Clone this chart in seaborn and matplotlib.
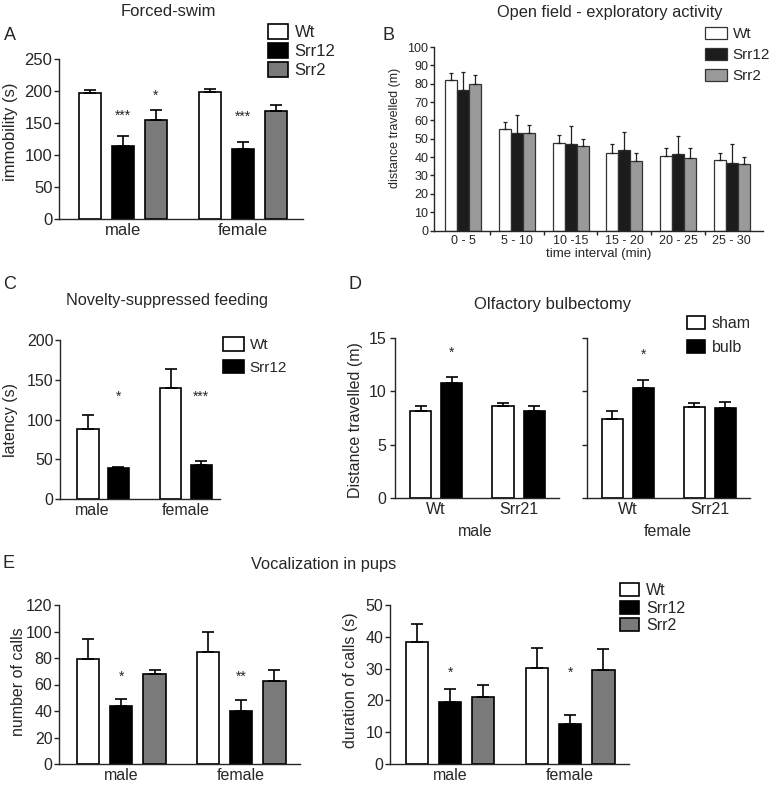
import numpy as np
import pandas as pd
import matplotlib
matplotlib.use("Agg")
import matplotlib.pyplot as plt
import matplotlib.transforms as mtransforms
import seaborn as sns

W, H = 777, 785

sexes = ["male", "female"]
geno3 = ["Wt", "Srr12", "Srr2"]
geno2 = ["Wt", "Srr12"]

# A - forced swim, immobility (s)
swim_mean = {"Wt": [197, 198], "Srr12": [114, 109], "Srr2": [155, 169]}
swim_sem = {"Wt": [4, 5], "Srr12": [16, 12], "Srr2": [15, 9]}
swim_stars = [("male", "Srr12", "***", 162), ("male", "Srr2", "*", 192), ("female", "Srr12", "***", 159)]

# B - open field, distance travelled (m)
intervals = ["0 - 5", "5 - 10", "10 -15", "15 - 20", "20 - 25", "25 - 30"]
field_mean = {"Wt": [82, 55.5, 47.5, 42.2, 40.5, 38.4],
              "Srr12": [76.7, 53, 47.3, 43.6, 41.5, 36.9],
              "Srr2": [80, 53, 45.8, 38, 39.3, 36.2]}
field_sem = {"Wt": [4, 3.5, 4.5, 4.8, 4.5, 4.1],
             "Srr12": [9.8, 10, 9.7, 9.9, 9.8, 10],
             "Srr2": [4.5, 4.6, 4, 4.2, 5.6, 4]}

# C - novelty-suppressed feeding, latency (s)
nsf_mean = {"Wt": [87.6, 140], "Srr12": [38.6, 43.2]}
nsf_sem = {"Wt": [18.5, 23.5], "Srr12": [2, 4]}
nsf_stars = [("male", "Srr12", "*", 128), ("female", "Srr12", "***", 128)]

# D - olfactory bulbectomy, distance travelled (m)
lines = ["Wt", "Srr21"]
treat = ["sham", "bulb"]
obx_male_mean = {"sham": [8.15, 8.65], "bulb": [10.75, 8.18]}
obx_male_sem = {"sham": [0.45, 0.28], "bulb": [0.55, 0.44]}
obx_female_mean = {"sham": [7.43, 8.53], "bulb": [10.28, 8.46]}
obx_female_sem = {"sham": [0.69, 0.34], "bulb": [0.82, 0.54]}
obx_male_stars = [("Wt", "bulb", "*", 13.6)]
obx_female_stars = [("Wt", "bulb", "*", 13.4)]

# E - vocalization in pups
calls_mean = {"Wt": [79.1, 84.2], "Srr12": [43.5, 40.2], "Srr2": [68.1, 62.8]}
calls_sem = {"Wt": [15.6, 15.8], "Srr12": [5.7, 7.8], "Srr2": [2.8, 8.3]}
calls_stars = [("male", "Srr12", "*", 65.7), ("female", "Srr12", "**", 65.7)]
dur_mean = {"Wt": [38.3, 30.1], "Srr12": [19.5, 12.6], "Srr2": [21.1, 29.7]}
dur_sem = {"Wt": [5.8, 6.3], "Srr12": [4.0, 2.8], "Srr2": [3.6, 6.5]}
dur_stars = [("male", "Srr12", "*", 28.6), ("female", "Srr12", "*", 28.6)]

sns.set_style("ticks")
plt.rcParams["font.family"] = ["Liberation Sans", "DejaVu Sans"]
plt.rcParams["axes.linewidth"] = 1.0

fig = plt.figure(figsize=(W / 100, H / 100), dpi=100)


def fx(px):
    return px / W


def fy(py):
    return 1 - py / H


def add_axes(l, t, r, b):
    return fig.add_axes([fx(l), fy(b), (r - l) / W, (b - t) / H])


def bar_panel(ax, cats, groups, means, sems, colors, width, gap, capsize,
              lw=1.2, edge="black", ecolor="black", stars=(), star_size=10):
    rows = [(c, g, means[g][i]) for g in groups for i, c in enumerate(cats)]
    df = pd.DataFrame(rows, columns=["cat", "grp", "val"])
    sns.barplot(data=df, x="cat", y="val", hue="grp", order=cats, hue_order=groups,
                palette=colors, saturation=1, width=width, gap=gap, edgecolor=edge,
                linewidth=lw, errorbar=None, legend=True, ax=ax)
    bars = list(ax.containers)[:len(groups)]
    centers = {}
    for g, cont in zip(groups, bars):
        xs = [b.get_x() + b.get_width() / 2 for b in cont]
        ys = [b.get_height() for b in cont]
        for c, x in zip(cats, xs):
            centers[(c, g)] = x
        ax.errorbar(xs, ys, yerr=[np.zeros(len(xs)), sems[g]], fmt="none",
                    ecolor=ecolor, elinewidth=lw, capsize=capsize, capthick=lw, zorder=1)
    for c, g, s, y in stars:
        ax.text(centers[(c, g)], y, s, ha="center", va="center", fontsize=star_size)
    handles, labels = ax.get_legend_handles_labels()
    ax.get_legend().remove()
    ax.set_xlabel("")
    ax.set_ylabel("")
    sns.despine(ax=ax)
    ax.tick_params(axis="x", length=0, pad=3)
    ax.tick_params(axis="y", length=3.5, width=1, pad=1.2)
    return handles, labels


def place_legend(ax, handles, labels, x, y, fs, hl, hh, ls, tp):
    ax.legend(handles, labels, loc="upper left", bbox_to_anchor=(fx(x), fy(y)),
              bbox_transform=fig.transFigure, frameon=False, borderpad=0,
              borderaxespad=0, fontsize=fs, handlelength=hl, handleheight=hh,
              labelspacing=ls, handletextpad=tp)


def ylabel(ax, text, x_right, y_mid, fs):
    ax.set_ylabel(text, fontsize=fs)
    ax.yaxis.set_label_coords(fx(x_right), fy(y_mid), transform=fig.transFigure)


col3 = {"Wt": "white", "Srr12": "black", "Srr2": "#7a7a7a"}

# ---- A
axA = add_axes(59, 59, 303, 219)
h, l = bar_panel(axA, sexes, geno3, swim_mean, swim_sem, col3, 0.825, 0.33, 4.5,
                 stars=swim_stars)
axA.set_ylim(0, 250)
axA.set_xlim(-0.53, 1.5)
axA.set_yticks([0, 50, 100, 150, 200, 250])
axA.tick_params(labelsize=12)
ylabel(axA, "immobility (s)", 18, 132, 12)
place_legend(axA, h, l, 268, 24, 12, 1.2, 1.0, 0.17, 0.4)
fig.text(fx(4), fy(35), "A", fontsize=13, va="center")
fig.text(fx(168), fy(12), "Forced-swim", fontsize=12, ha="center", va="center")

# ---- B
colB = {"Wt": "white", "Srr12": "#1c1c1c", "Srr2": "#9a9a9a"}
axB = add_axes(434, 47, 763, 230.5)
h, l = bar_panel(axB, intervals, geno3, field_mean, field_sem, colB, 0.67, 0, 1.5,
                 lw=0.9, edge="#333333", ecolor="#222222")
axB.set_ylim(0, 100)
axB.set_xlim(-0.54, 5.58)
axB.set_yticks(range(0, 101, 10))
axB.set_xticks(np.arange(0.5, 5.0, 1.0), minor=True)
axB.tick_params(axis="x", which="minor", length=3, width=1)
axB.tick_params(axis="y", length=3, pad=1)
axB.tick_params(labelsize=9)
axB.set_xlabel("time interval (min)", fontsize=9.5, labelpad=1)
ylabel(axB, "distance travelled (m)", 401, 128, 9)
place_legend(axB, h, l, 705, 27, 11, 1.45, 0.8, 0.45, 0.35)
fig.text(fx(382), fy(35), "B", fontsize=13, va="center")
fig.text(fx(610), fy(13), "Open field - exploratory activity", fontsize=11.8,
         ha="center", va="center")

# ---- C
col2 = {"Wt": "white", "Srr12": "black"}
axC = add_axes(60, 340, 220, 499)
h, l = bar_panel(axC, sexes, geno2, nsf_mean, nsf_sem, col2, 0.735, 0.3, 4.5,
                 stars=nsf_stars)
axC.set_ylim(0, 200)
axC.set_xlim(-0.52, 1.41)
axC.set_yticks([0, 50, 100, 150, 200])
axC.tick_params(labelsize=11.5)
# the "male" label sits a little left of its group in the original
shift = mtransforms.ScaledTranslation(-0.11, 0, fig.dpi_scale_trans)
tl = axC.get_xticklabels()[0]
tl.set_transform(tl.get_transform() + shift)
ylabel(axC, "latency (s)", 18, 420, 11.5)
place_legend(axC, h, l, 223, 337, 11, 1.35, 1.0, 0.5, 0.4)
fig.text(fx(3), fy(285), "C", fontsize=13, va="center")
fig.text(fx(167), fy(300), "Novelty-suppressed feeding", fontsize=11.7,
         ha="center", va="center")

# ---- D
colD = {"sham": "white", "bulb": "black"}
axD1 = add_axes(395, 338, 559, 498)
h, l = bar_panel(axD1, lines, treat, obx_male_mean, obx_male_sem, colD, 0.756, 0.32, 4.5,
                 stars=obx_male_stars)
axD2 = add_axes(587, 338, 750, 498)
bar_panel(axD2, lines, treat, obx_female_mean, obx_female_sem, colD, 0.756, 0.32, 4.5,
          stars=obx_female_stars)
for ax in (axD1, axD2):
    ax.set_ylim(0, 15)
    ax.set_xlim(-0.5, 1.49)
    ax.set_yticks([0, 5, 10, 15])
    ax.tick_params(labelsize=11.5)
    ax.tick_params(axis="y", pad=2.5)
axD2.set_yticklabels([])
ylabel(axD1, "Distance travelled (m)", 363, 420, 11.5)
place_legend(axD2, h, l, 687, 316, 11.5, 1.1, 0.85, 0.55, 0.45)
fig.text(fx(475), fy(531), "male", fontsize=11.5, ha="center", va="center")
fig.text(fx(668), fy(531), "female", fontsize=11.5, ha="center", va="center")
fig.text(fx(348), fy(285), "D", fontsize=13, va="center")
fig.text(fx(553), fy(305), "Olfactory bulbectomy", fontsize=12, ha="center", va="center")

# ---- E
axE1 = add_axes(59, 605, 300, 764)
h, l = bar_panel(axE1, sexes, geno3, calls_mean, calls_sem, col3, 0.83, 0.33, 4.5,
                 stars=calls_stars)
axE1.set_ylim(0, 120)
axE1.set_xlim(-0.52, 1.49)
axE1.set_yticks(range(0, 121, 20))
axE1.tick_params(labelsize=11.5)
ylabel(axE1, "number of calls", 26, 682, 11.5)

axE2 = add_axes(390, 605, 629, 764)
bar_panel(axE2, sexes, geno3, dur_mean, dur_sem, col3, 0.83, 0.33, 4.5, stars=dur_stars)
axE2.set_ylim(0, 50)
axE2.set_xlim(-0.5, 1.49)
axE2.set_yticks(range(0, 51, 10))
axE2.tick_params(labelsize=11.5)
ylabel(axE2, "duration of calls (s)", 358, 680, 11.5)
place_legend(axE2, h, l, 620, 583, 11.5, 1.2, 0.9, 0.15, 0.45)
fig.text(fx(3), fy(563), "E", fontsize=13, va="center")
fig.text(fx(324), fy(565), "Vocalization in pups", fontsize=11.8, ha="center", va="center")

fig.savefig("out.png", dpi=100)
plt.close(fig)
